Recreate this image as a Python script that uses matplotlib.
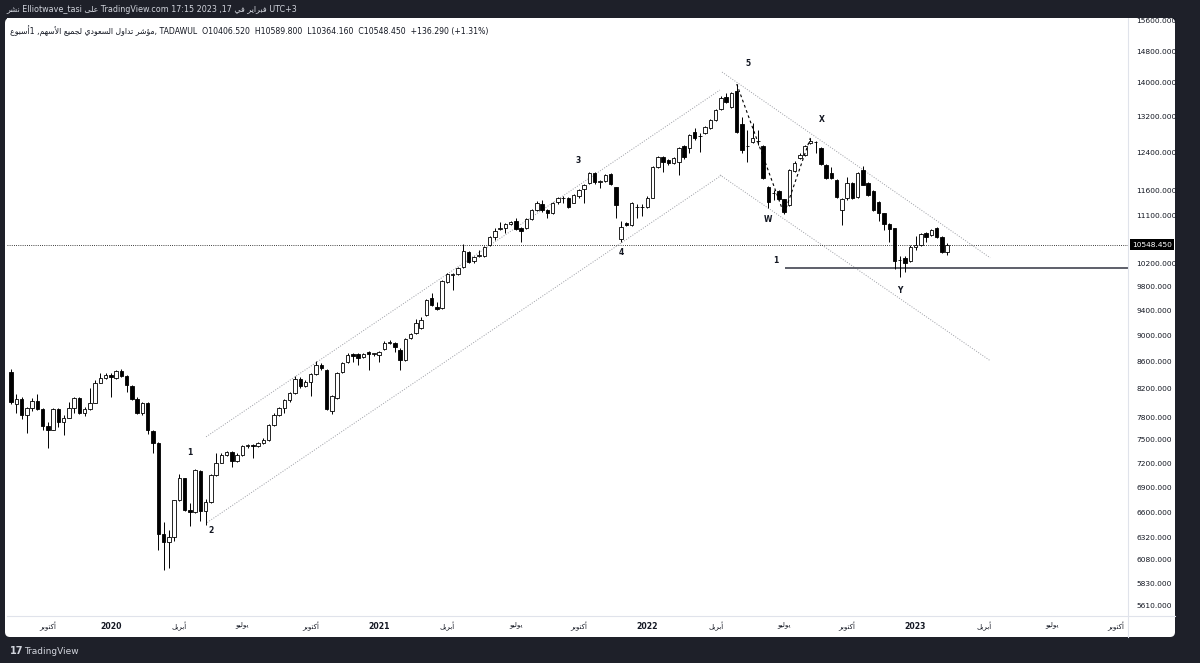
import numpy as np
import matplotlib.pyplot as plt
from matplotlib.patches import FancyBboxPatch, Rectangle
from matplotlib.lines import Line2D
from matplotlib.transforms import IdentityTransform, blended_transform_factory
from matplotlib.ticker import NullLocator

# weekly candles of TASI (TADAWUL), late Aug 2019 -> mid Feb 2023
opens = [8450, 7990, 8060, 7838, 7934, 8032, 7920, 7689, 7636, 7920,
         7743, 7798, 7934, 8074, 7866, 7920, 8004, 8289, 8361, 8400,
         8361, 8464, 8390, 8246, 8060, 7866, 8004, 7622, 7464, 6367,
         6269, 6324, 6746, 7010, 6629, 6606, 7108, 6617, 6722, 7058,
         7208, 7310, 7348, 7233, 7310, 7425, 7430, 7425, 7464, 7503,
         7703, 7839, 7934, 8046, 8146, 8347, 8246, 8303, 8420, 8553,
         8479, 7893, 8074, 8449, 8598, 8720, 8720, 8674, 8750, 8720,
         8704, 8790, 8889, 8889, 8780, 8628, 8967, 9046, 9124, 9334,
         9615, 9467, 9450, 9888, 10009, 10026, 10150, 10419, 10257, 10347,
         10347, 10547, 10696, 10846, 10865, 10942, 10999, 10865, 10865, 11038,
         11212, 11330, 11212, 11154, 11367, 11447, 11450, 11350, 11490, 11630,
         11753, 11960, 11773, 11794, 11940, 11670, 10650, 10961, 10923, 11270,
         11265, 11270, 11447, 12084, 12297, 12232, 12169, 12190, 12535, 12491,
         12846, 12757, 12824, 12936, 13118, 13374, 13656, 13420, 13800, 13027,
         12540, 12624, 12646, 12537, 11669, 11550, 11588, 11427, 11308, 12000,
         12275, 12340, 12602, 12630, 12491, 12126, 11958, 11812, 11209, 11447,
         11751, 11467, 12030, 11751, 11588, 11367, 11151, 10938, 10862, 10271,
         10307, 10253, 10507, 10544, 10768, 10730, 10862, 10693, 10406.52]
highs = [8493, 8130, 8088, 7948, 8074, 8130, 7934, 7743, 7930, 7934,
         7839, 8018, 8080, 8088, 7948, 8217, 8332, 8434, 8434, 8434,
         8479, 8493, 8405, 8260, 8088, 8018, 8018, 7636, 7475, 6491,
         6401, 6755, 7071, 7022, 6711, 7125, 7120, 6758, 7071, 7335,
         7335, 7361, 7361, 7335, 7438, 7451, 7451, 7477, 7530, 7716,
         7866, 7948, 8060, 8150, 8390, 8376, 8332, 8434, 8613, 8583,
         8493, 8116, 8449, 8598, 8735, 8735, 8735, 8735, 8765, 8735,
         8765, 8920, 8936, 8895, 8810, 8967, 9046, 9270, 9302, 9598,
         9700, 9549, 9922, 10043, 10043, 10150, 10565, 10437, 10347, 10455,
         10528, 10715, 10865, 10980, 10961, 10999, 11057, 10884, 11057, 11232,
         11390, 11410, 11232, 11370, 11470, 11490, 11470, 11530, 11630, 11733,
         11980, 11980, 11815, 11940, 11960, 11670, 11000, 10980, 11370, 11328,
         11328, 11487, 12105, 12318, 12318, 12254, 12297, 12513, 12558, 12801,
         12936, 12824, 12981, 13141, 13374, 13680, 13752, 13776, 13969, 13187,
         12891, 13050, 12891, 12558, 11690, 11608, 11608, 11427, 12042, 12211,
         12383, 12558, 12713, 12646, 12513, 12147, 12084, 11833, 11447, 11875,
         11771, 11979, 12095, 11771, 11608, 11387, 11160, 10957, 10870, 10343,
         10343, 10544, 10712, 10768, 10787, 10843, 10881, 10712, 10589.8]
lows = [7990, 7866, 7784, 7596, 7893, 7907, 7636, 7400, 7630, 7676,
        7570, 7790, 7866, 7852, 7825, 7907, 7995, 8280, 8346, 8088,
        8346, 8376, 8160, 8046, 7852, 7838, 7583, 7335, 6182, 5970,
        5990, 6280, 6734, 6617, 6446, 6594, 6503, 6457, 6711, 7046,
        7200, 7285, 7158, 7220, 7297, 7400, 7270, 7412, 7451, 7490,
        7689, 7825, 7866, 8018, 8130, 8217, 8231, 8102, 8405, 8479,
        7907, 7852, 8060, 8434, 8583, 8598, 8553, 8659, 8479, 8689,
        8598, 8780, 8873, 8750, 8479, 8613, 8951, 9030, 9108, 9318,
        9484, 9415, 9432, 9870, 9750, 10009, 10132, 10221, 10221, 10329,
        10329, 10528, 10640, 10827, 10770, 10923, 10827, 10603, 10846, 11018,
        11193, 11173, 11057, 11135, 11330, 11350, 11252, 11340, 11450, 11350,
        11733, 11733, 11650, 11773, 11712, 11057, 10603, 10904, 10904, 11054,
        11093, 11250, 11440, 12063, 11979, 12126, 12150, 11916, 12254, 12383,
        12668, 12404, 12810, 12914, 13095, 13350, 13514, 13397, 12824, 12383,
        12190, 12602, 12558, 11833, 11248, 11407, 11407, 11131, 11288, 11979,
        12254, 12318, 12580, 12383, 12126, 11833, 11833, 11447, 10919, 11407,
        11427, 11447, 11700, 11480, 11190, 10996, 10824, 10600, 10110, 9970,
        10058, 10235, 10452, 10526, 10600, 10712, 10674, 10398, 10364.16]
closes = [8018, 8060, 7838, 7934, 8032, 7920, 7689, 7636, 7920, 7743,
          7798, 7934, 8074, 7866, 7920, 8004, 8289, 8361, 8405, 8376,
          8464, 8390, 8260, 8060, 7866, 8004, 7636, 7464, 6367, 6269,
          6324, 6746, 7010, 6629, 6606, 7120, 6617, 6722, 7058, 7208,
          7310, 7348, 7233, 7310, 7425, 7430, 7425, 7464, 7503, 7703,
          7839, 7934, 8046, 8146, 8347, 8246, 8303, 8420, 8553, 8508,
          7920, 8102, 8434, 8583, 8704, 8689, 8659, 8720, 8720, 8725,
          8750, 8888, 8905, 8826, 8628, 8951, 9030, 9205, 9253, 9582,
          9500, 9432, 9905, 10026, 10015, 10132, 10437, 10239, 10329, 10352,
          10510, 10696, 10808, 10850, 10942, 10980, 10846, 10808, 11038, 11212,
          11350, 11212, 11154, 11350, 11447, 11455, 11272, 11510, 11610, 11712,
          11960, 11773, 11780, 11918, 11733, 11310, 10884, 10923, 11350, 11265,
          11275, 11447, 12084, 12297, 12190, 12169, 12275, 12491, 12297, 12779,
          12713, 12760, 12959, 13118, 13350, 13633, 13538, 13752, 12846, 12448,
          12530, 12713, 12650, 11854, 11367, 11545, 11427, 11170, 12021, 12168,
          12340, 12537, 12646, 12624, 12147, 11854, 11854, 11467, 11427, 11751,
          11447, 11958, 11720, 11507, 11209, 11151, 10938, 10843, 10253, 10265,
          10217, 10507, 10544, 10749, 10693, 10824, 10693, 10412.16, 10548.45]

price_ticks = [15600, 14800, 14000, 13200, 12400, 11600, 11100, 10200, 9800,
               9400, 9000, 8600, 8200, 7800, 7500, 7200, 6900, 6600, 6320,
               6080, 5830, 5610]

# first bar of each month on the time axis (bar number, label)
month_bars = [7, 19, 32, 44, 57, 70, 83, 96, 108, 121, 134, 147, 159, 172, 185, 198, 210]
month_labels = ['أكتوبر', '2020', 'أبريل', 'يوليو', 'أكتوبر', '2021', 'أبريل', 'يوليو',
                'أكتوبر', '2022', 'أبريل', 'يوليو', 'أكتوبر', '2023', 'أبريل', 'يوليو',
                'أكتوبر']

# drawings: channels (bar, price), wave labels, level line
up_upper = [(37.1, 7540), (134.8, 13825)]
up_lower = [(37.3, 6491), (135.2, 11918)]
dn_upper = [(135.2, 14266), (186.2, 10310)]
dn_lower = [(134.8, 11918), (186.2, 8613)]
wave_labels = [('1', 34.0, 7335), ('2', 38.0, 6401), ('3', 107.8, 12214),
               ('4', 116.0, 10400), ('5', 140.2, 14493), ('W', 144.0, 11020),
               ('X', 154.2, 13135), ('Y', 169.1, 9733), ('1', 145.5, 10257)]
level_1 = 10128
level_start = 147.2
wxy_bars = [138, 147, 152]   # peak high, W low, X high

# --- tiny arabic shaper (matplotlib draws no contextual forms, no RTL) ---
FORMS = {
    'ا': ('ﺍ', 'ﺎ', None, None), 'أ': ('ﺃ', 'ﺄ', None, None),
    'ؤ': ('ﺅ', 'ﺆ', None, None), 'د': ('ﺩ', 'ﺪ', None, None),
    'ر': ('ﺭ', 'ﺮ', None, None), 'و': ('ﻭ', 'ﻮ', None, None),
    'ى': ('ﻯ', 'ﻰ', None, None),
    'ب': ('ﺏ', 'ﺐ', 'ﺑ', 'ﺒ'), 'ت': ('ﺕ', 'ﺖ', 'ﺗ', 'ﺘ'),
    'ج': ('ﺝ', 'ﺞ', 'ﺟ', 'ﺠ'), 'س': ('ﺱ', 'ﺲ', 'ﺳ', 'ﺴ'),
    'ش': ('ﺵ', 'ﺶ', 'ﺷ', 'ﺸ'), 'ع': ('ﻉ', 'ﻊ', 'ﻋ', 'ﻌ'),
    'ف': ('ﻑ', 'ﻒ', 'ﻓ', 'ﻔ'), 'ك': ('ﻙ', 'ﻚ', 'ﻛ', 'ﻜ'),
    'ل': ('ﻝ', 'ﻞ', 'ﻟ', 'ﻠ'), 'م': ('ﻡ', 'ﻢ', 'ﻣ', 'ﻤ'),
    'ن': ('ﻥ', 'ﻦ', 'ﻧ', 'ﻨ'), 'ه': ('ﻩ', 'ﻪ', 'ﻫ', 'ﻬ'),
    'ي': ('ﻱ', 'ﻲ', 'ﻳ', 'ﻴ'),
}
LAM_ALEF = {'ا': ('ﻻ', 'ﻼ'), 'أ': ('ﻷ', 'ﻸ')}


def ar(word):
    toks = []
    i = 0
    while i < len(word):
        if word[i] == 'ل' and i + 1 < len(word) and word[i + 1] in LAM_ALEF:
            toks.append(('LA', word[i + 1]))
            i += 2
        else:
            toks.append((word[i], None))
            i += 1
    out = []
    for k, (c, a) in enumerate(toks):
        prev = toks[k - 1][0] if k > 0 else None
        jp = prev in FORMS and FORMS[prev][2] is not None
        if c == 'LA':
            out.append(LAM_ALEF[a][1 if jp else 0])
            continue
        if c not in FORMS:
            out.append(c)
            continue
        iso, fin, ini, med = FORMS[c]
        nxt = toks[k + 1][0] if k + 1 < len(toks) else None
        jn = ini is not None and (nxt in FORMS or nxt == 'LA')
        out.append(med if jp and jn else fin if jp else ini if jn else iso)
    return ''.join(out)[::-1]


def ar_line(words):
    return ' '.join(ar(w) for w in reversed(words.split()))


BG = '#1e2029'
TXT = '#131722'
W, H = 1200, 663
fig = plt.figure(figsize=(12, 6.63), dpi=100, facecolor=BG)

panel = FancyBboxPatch((5, H - 637), 1170, 619, boxstyle='round,pad=0,rounding_size=5',
                       facecolor='white', edgecolor='none', transform=IdentityTransform(),
                       zorder=-5)
fig.patches.append(panel)
# dark header band over the top of the panel (cuts the top price label like the original)
fig.patches.append(Rectangle((0, H - 18), W, 18, facecolor=BG, edgecolor='none',
                             transform=IdentityTransform(), zorder=3))

ax = fig.add_axes([7 / W, (H - 616) / H, (1128 - 7) / W, (616 - 18) / H])
ax.set_zorder(1)
ax.set_facecolor('white')
ax.set_yscale('log')
ax.set_ylim(5512, 15680)
ax.set_xlim(-0.76, 212.4)
for s in ax.spines.values():
    s.set_visible(False)

x = np.arange(len(opens))
o = np.array(opens, float)
c = np.array(closes, float)
up = c >= o
ax.vlines(x, lows, highs, color='black', lw=0.7, zorder=3)
bottoms = np.minimum(o, c)
heights = np.maximum(np.abs(c - o), bottoms * 0.0008)
ax.bar(x, heights, bottom=bottoms, width=0.66,
       color=np.where(up, 'white', 'black'), edgecolor='black', lw=0.6, zorder=4)

dot = (0, (1, 1.6))
for line in (up_upper, up_lower, dn_upper, dn_lower):
    ax.plot([p[0] for p in line], [p[1] for p in line], color='#9a9ca3', lw=0.7,
            ls=dot, zorder=2)

ax.plot(wxy_bars, [highs[wxy_bars[0]], lows[wxy_bars[1]], highs[wxy_bars[2]]],
        color='black', lw=0.8, ls=(0, (2.5, 2.5)), zorder=5)

ax.axhline(closes[-1], color='black', lw=0.6, ls=dot, zorder=2)
ax.hlines(level_1, level_start, 212.4, color='#50535e', lw=1.3, zorder=2)

for t, bx, py in wave_labels:
    ax.text(bx, py, t, ha='center', va='center', fontsize=5.5, fontweight='bold',
            color=TXT, zorder=6)

# price scale
ax.yaxis.tick_right()
ax.yaxis.set_minor_locator(NullLocator())
ax.set_yticks(price_ticks)
ax.set_yticklabels([f'{v:.3f}' for v in price_ticks])
ax.tick_params(axis='y', length=0, pad=6, labelsize=5.4, labelcolor=TXT)
for lab in ax.get_yticklabels():
    lab.set_horizontalalignment('left')

tr = blended_transform_factory(ax.transAxes, ax.transData)
ax.text(1.0035, closes[-1], f'{closes[-1]:.3f}', transform=tr, ha='left', va='center',
        fontsize=5.4, color='white', zorder=7,
        bbox=dict(boxstyle='square,pad=0.3', facecolor='black', edgecolor='none'))

# time scale
ax.set_xticks(month_bars)
ax.set_xticklabels([m if m.isdigit() else ar(m) for m in month_labels])
ax.tick_params(axis='x', length=0, pad=4, labelsize=5.0, labelcolor=TXT)
for lab, m in zip(ax.get_xticklabels(), month_labels):
    lab.set_fontfamily('DejaVu Sans')
    if m.isdigit():
        lab.set_fontweight('bold')
        lab.set_fontsize(5.6)

# axis borders
fig.add_artist(Line2D([7 / W, 1175 / W], [(H - 616) / H] * 2, color='#e0e3eb', lw=0.8))
fig.add_artist(Line2D([1128 / W] * 2, [(H - 637) / H, (H - 18) / H], color='#e0e3eb', lw=0.8))

header = (f"{ar('نشر')} Elliotwave_tasi {ar('على')} TradingView.com 17:15 2023 ,17 "
          f"{ar('في')} {ar('فبراير')} UTC+3")
fig.text(6 / W, 1 - 9 / H, header, color='#d1d4dc', fontsize=5.8, va='center',
         family='DejaVu Sans', zorder=4)
title = (f"{ar('أسبوع')}1 ,{ar_line('مؤشر تداول السعودي لجميع الأسهم')}, TADAWUL  "
         "O10406.520  H10589.800  L10364.160  C10548.450  +136.290 (+1.31%)")
fig.text(10 / W, 1 - 31 / H, title, color=TXT, fontsize=5.6, va='center',
         family='DejaVu Sans', zorder=5)
fig.text(10 / W, 1 - 651 / H, '17', color='#d1d4dc', fontsize=7, fontweight='bold',
         va='center')
fig.text(24 / W, 1 - 651 / H, 'TradingView', color='#d1d4dc', fontsize=6.5, va='center')

fig.savefig('out.png', dpi=100, facecolor=BG)
